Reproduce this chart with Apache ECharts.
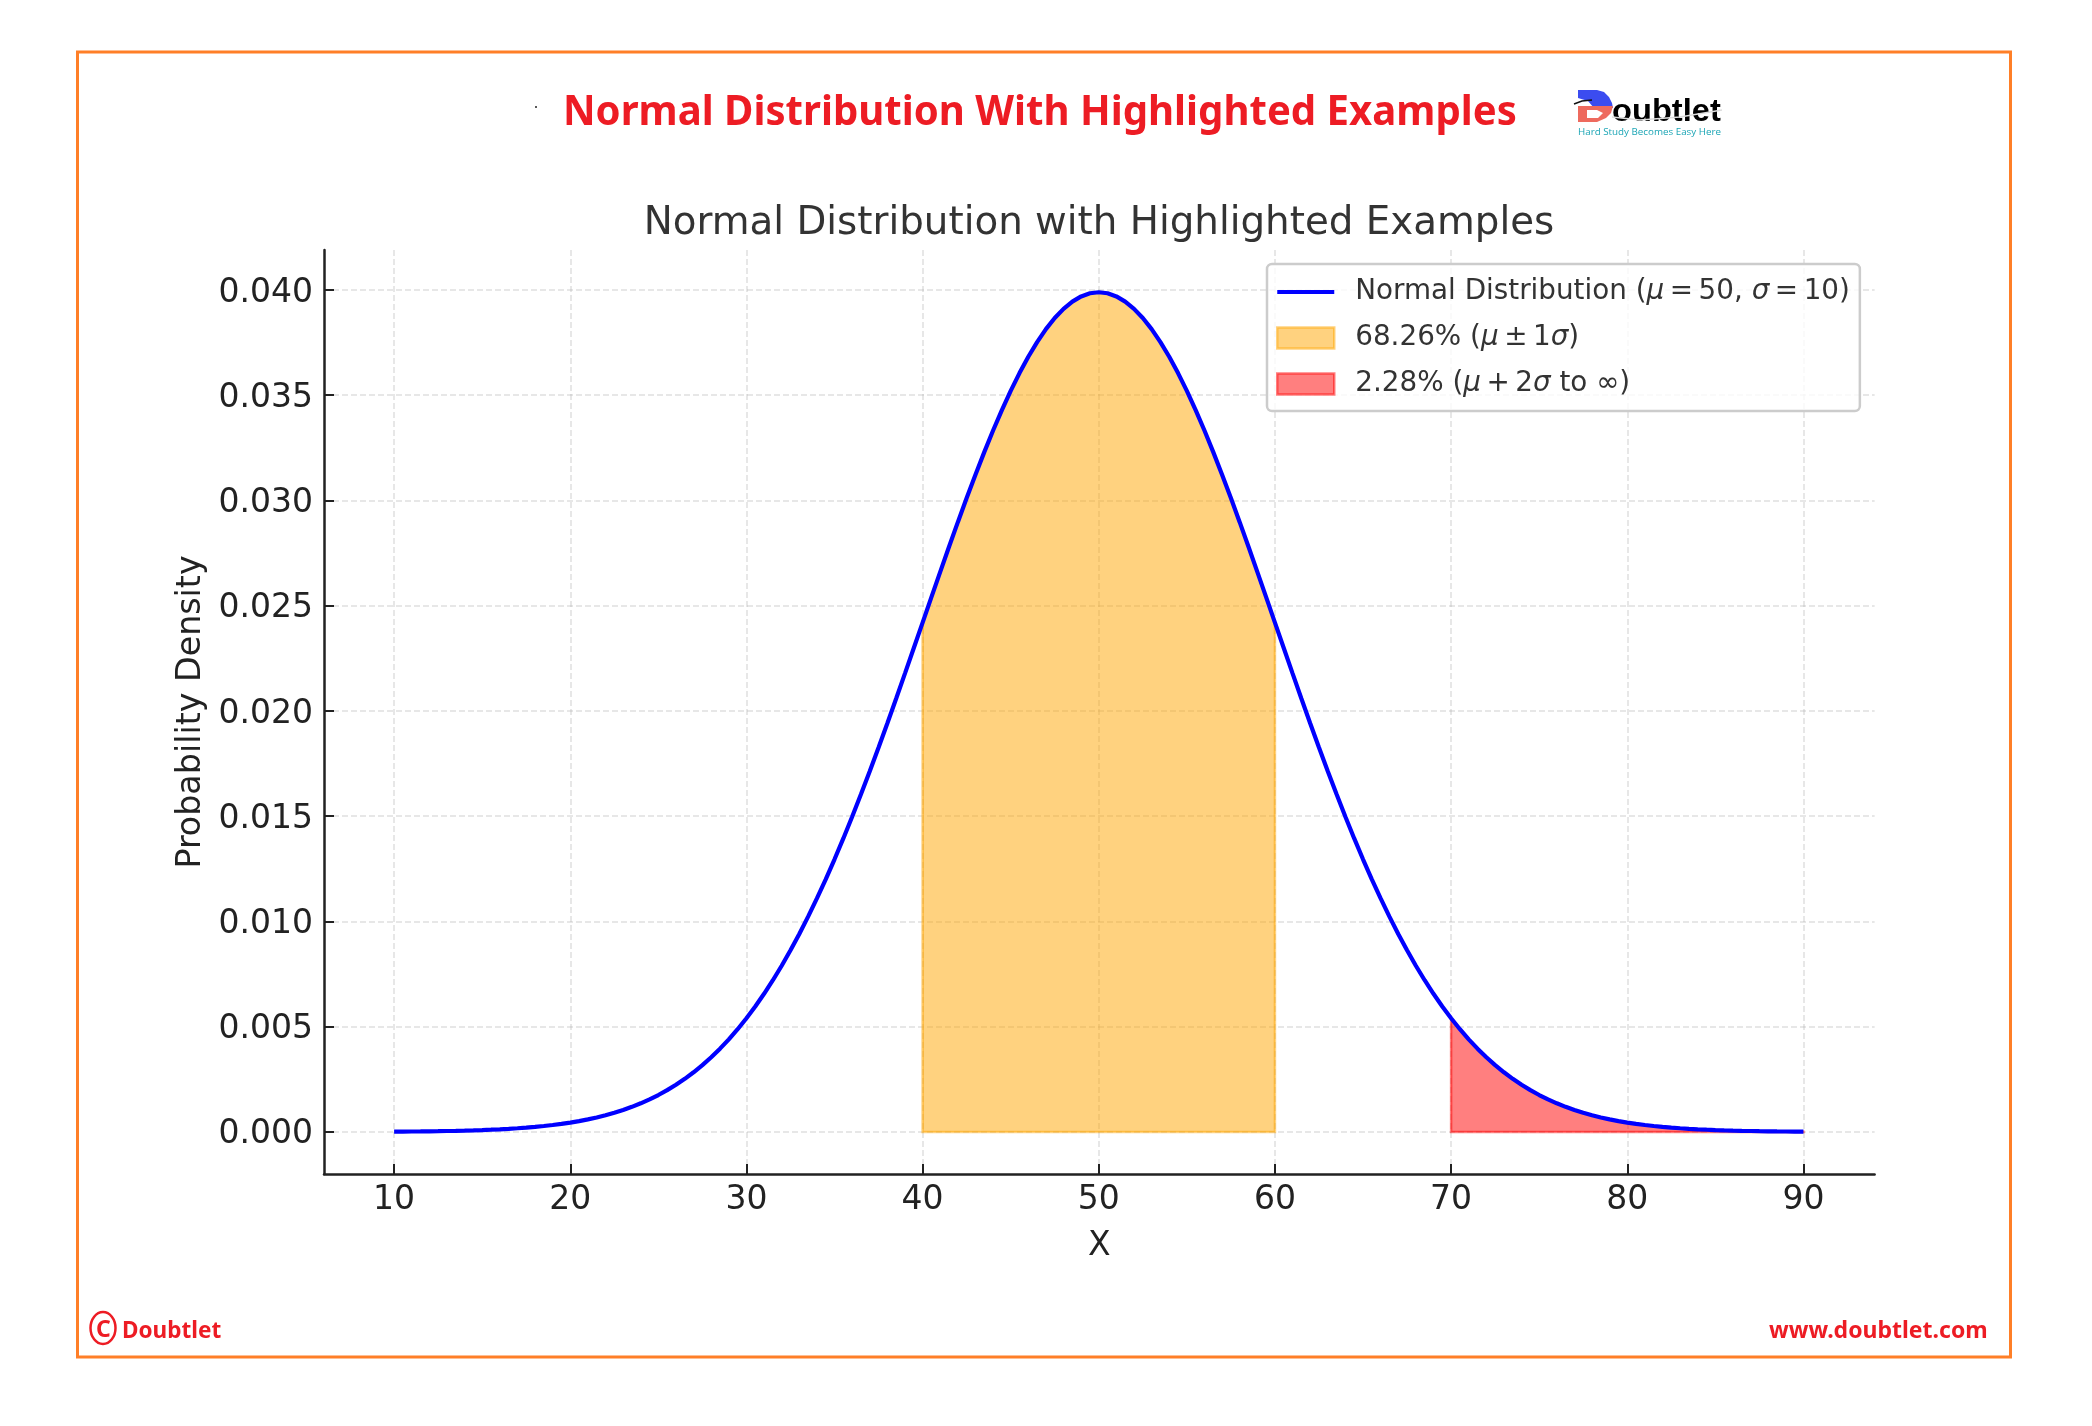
<!DOCTYPE html>
<html>
<head>
<meta charset="utf-8">
<script src="https://cdn.jsdelivr.net/npm/echarts@6/dist/echarts.min.js"></script>
<style>html,body{margin:0;padding:0;background:#fff}#c{width:2092px;height:1426px}</style>
</head>
<body>
<div id="c"></div>
<script>
const xValues = [10,10.5,11,11.5,12,12.5,13,13.5,14,14.5,15,15.5,16,16.5,17,17.5,18,18.5,19,19.5,20,20.5,21,21.5,22,22.5,23,23.5,24,24.5,25,25.5,26,26.5,27,27.5,28,28.5,29,29.5,30,30.5,31,31.5,32,32.5,33,33.5,34,34.5,35,35.5,36,36.5,37,37.5,38,38.5,39,39.5,40,40.5,41,41.5,42,42.5,43,43.5,44,44.5,45,45.5,46,46.5,47,47.5,48,48.5,49,49.5,50,50.5,51,51.5,52,52.5,53,53.5,54,54.5,55,55.5,56,56.5,57,57.5,58,58.5,59,59.5,60,60.5,61,61.5,62,62.5,63,63.5,64,64.5,65,65.5,66,66.5,67,67.5,68,68.5,69,69.5,70,70.5,71,71.5,72,72.5,73,73.5,74,74.5,75,75.5,76,76.5,77,77.5,78,78.5,79,79.5,80,80.5,81,81.5,82,82.5,83,83.5,84,84.5,85,85.5,86,86.5,87,87.5,88,88.5,89,89.5,90];
const densityValues = [
0.0000134,0.0000163,0.0000198,0.0000241,0.0000292,0.0000353,0.0000425,0.0000510,0.0000612,0.0000732,
0.0000873,0.0001038,0.0001232,0.0001459,0.0001723,0.0002029,0.0002384,0.0002794,0.0003267,0.0003810,
0.0004432,0.0005143,0.0005953,0.0006873,0.0007915,0.0009094,0.0010421,0.0011912,0.0013583,0.0015449,
0.0017528,0.0019837,0.0022395,0.0025218,0.0028327,0.0031740,0.0035475,0.0039550,0.0043984,0.0048792,
0.0053991,0.0059595,0.0065616,0.0072065,0.0078950,0.0086277,0.0094049,0.0102265,0.0110921,0.0120009,
0.0129518,0.0139431,0.0149727,0.0160383,0.0171369,0.0182649,0.0194186,0.0205936,0.0217852,0.0229882,
0.0241971,0.0254059,0.0266085,0.0277985,0.0289692,0.0301137,0.0312254,0.0322972,0.0333225,0.0342944,
0.0352065,0.0360527,0.0368270,0.0375240,0.0381388,0.0386668,0.0391043,0.0394479,0.0396953,0.0398444,
0.0398942,
0.0398444,0.0396953,0.0394479,0.0391043,0.0386668,0.0381388,0.0375240,0.0368270,0.0360527,0.0352065,
0.0342944,0.0333225,0.0322972,0.0312254,0.0301137,0.0289692,0.0277985,0.0266085,0.0254059,0.0241971,
0.0229882,0.0217852,0.0205936,0.0194186,0.0182649,0.0171369,0.0160383,0.0149727,0.0139431,0.0129518,
0.0120009,0.0110921,0.0102265,0.0094049,0.0086277,0.0078950,0.0072065,0.0065616,0.0059595,0.0053991,
0.0048792,0.0043984,0.0039550,0.0035475,0.0031740,0.0028327,0.0025218,0.0022395,0.0019837,0.0017528,
0.0015449,0.0013583,0.0011912,0.0010421,0.0009094,0.0007915,0.0006873,0.0005953,0.0005143,0.0004432,
0.0003810,0.0003267,0.0002794,0.0002384,0.0002029,0.0001723,0.0001459,0.0001232,0.0001038,0.0000873,
0.0000732,0.0000612,0.0000510,0.0000425,0.0000353,0.0000292,0.0000241,0.0000198,0.0000163,0.0000134];
const xTicks = [10,20,30,40,50,60,70,80,90];
const yTicks = [0,0.005,0.01,0.015,0.02,0.025,0.03,0.035,0.04];
const seriesNames = ['Normal Distribution', '68.26%', '2.28%'];
const legendRich = {
  'Normal Distribution': '{t|Normal Distribution (}{m|μ}{t|\u2009=\u200950, }{m|σ}{t|\u2009=\u200910)}',
  '68.26%': '{t|68.26% (}{m|μ}{t|\u2009±\u20091}{m|σ}{t|)}',
  '2.28%': '{t|2.28% (}{m|μ}{t|\u2009+\u20092}{m|σ}{t| to ∞)}'
};
const headerText = 'Normal Distribution With Highlighted Examples';
const chartTitle = 'Normal Distribution with Highlighted Examples';

const points = xValues.map((x, i) => [x, densityValues[i]]);
const RED = '#ED1C24';
const DV = '"DejaVu Sans"';

function bandSeries(name, lo, hi, fill, stroke) {
  const pts = points.filter(p => p[0] >= lo && p[0] <= hi);
  return {
    name: name, type: 'custom', data: pts, z: 2, silent: true, clip: false,
    itemStyle: { color: fill },
    renderItem: function (params, api) {
      if (params.dataIndex !== 0) return null;
      const top = pts.map(p => api.coord(p));
      const first = api.coord([lo, 0]);
      const last = api.coord([hi, 0]);
      return {
        type: 'polygon',
        shape: { points: [first].concat(top, [last]) },
        style: { fill: fill, stroke: stroke, lineWidth: 2.5 }
      };
    }
  };
}

const option = {
  animation: false,
  backgroundColor: '#fff',
  title: {
    text: chartTitle, left: 1094, top: 199, textAlign: 'center',
    textStyle: { fontFamily: DV, fontSize: 38.8, fontWeight: 'normal', color: '#333' }
  },
  grid: { left: 324, top: 250, width: 1550.6, height: 924, containLabel: false },
  legend: {
    left: 1267, top: 264, orient: 'vertical', padding: [14, 10, 13, 9], itemGap: 18,
    itemWidth: 57, itemHeight: 21,
    backgroundColor: 'rgba(255,255,255,0.8)', borderColor: '#ccc', borderWidth: 2.5, borderRadius: 5,
    data: [
      { name: seriesNames[0], icon: 'path://M0 0H57V4H0Z', itemStyle: { color: '#0000ff', borderWidth: 0 } },
      { name: seriesNames[1], icon: 'rect', itemStyle: { color: 'rgba(255,165,0,0.5)', borderColor: 'rgba(255,165,0,0.5)', borderWidth: 2.5 } },
      { name: seriesNames[2], icon: 'rect', itemStyle: { color: 'rgba(255,0,0,0.5)', borderColor: 'rgba(255,0,0,0.5)', borderWidth: 2.5 } }
    ],
    formatter: n => legendRich[n],
    textStyle: {
      padding: [0, 0, 0, 16],
      rich: {
        t: { fontFamily: DV, fontSize: 27.8, color: '#333' },
        m: { fontFamily: DV, fontSize: 27.8, fontStyle: 'italic', color: '#333' }
      }
    }
  },
  xAxis: {
    type: 'value', min: 6.02, max: 94.04, name: 'X', nameLocation: 'middle', nameGap: 56,
    nameTextStyle: { fontFamily: DV, fontSize: 33, color: '#222' },
    axisLine: { onZero: false, lineStyle: { color: '#222', width: 2.5 } },
    axisTick: { inside: true, length: 10, customValues: xTicks, lineStyle: { color: '#222', width: 2 } },
    axisLabel: { customValues: xTicks, margin: 10, fontFamily: DV, fontSize: 33, color: '#222' },
    splitLine: { show: true, lineStyle: { type: [6, 3], color: 'rgba(176,176,176,0.3)', width: 2 } }
  },
  yAxis: {
    type: 'value', min: -0.002, max: 0.0419, name: 'Probability Density', nameLocation: 'middle', nameGap: 116,
    nameTextStyle: { fontFamily: DV, fontSize: 33.3, color: '#222' },
    axisLine: { onZero: false, lineStyle: { color: '#222', width: 2.5 } },
    axisTick: { inside: true, length: 10, customValues: yTicks, lineStyle: { color: '#222', width: 2 } },
    axisLabel: { customValues: yTicks, margin: 11, verticalAlign: 'top', lineHeight: 6, fontFamily: DV, fontSize: 33, color: '#222', formatter: v => v.toFixed(3) },
    splitLine: { show: true, lineStyle: { type: [6, 3], color: 'rgba(176,176,176,0.3)', width: 2 } }
  },
  series: [
    bandSeries(seriesNames[1], 40, 60, 'rgba(255,165,0,0.5)', 'rgba(255,165,0,0.5)'),
    bandSeries(seriesNames[2], 70, 90, 'rgba(255,0,0,0.5)', 'rgba(255,0,0,0.5)'),
    {
      name: seriesNames[0], type: 'line', data: points, smooth: false, showSymbol: false, symbol: 'none', z: 5,
      lineStyle: { color: '#0000ff', width: 4.2 }, itemStyle: { color: '#0000ff' }, silent: true
    }
  ],
  graphic: [
    { type: 'rect', shape: { x: 77.5, y: 52, width: 1933, height: 1305 }, style: { fill: 'none', stroke: '#FF7F27', lineWidth: 3 }, silent: true },
    { type: 'circle', shape: { cx: 536, cy: 107, r: 1 }, style: { fill: '#222' }, silent: true },
    { type: 'text', x: 563, y: 92, scaleX: 0.955, style: { text: headerText, fontFamily: '"Noto Sans"', fontWeight: 'bold', fontSize: 42, fill: RED } },
    // logo
    { type: 'polygon', shape: { points: [[1578,90],[1597,90],[1604,92],[1609,97],[1612,103],[1613,108],[1594,108],[1588,101],[1578,98]] }, style: { fill: '#3B4CF0' }, silent: true },
    { type: 'polygon', shape: { points: [[1578,106],[1613,106],[1611,113],[1606,118],[1597,122],[1578,122]] }, style: { fill: '#EE6A5E' }, silent: true },
    { type: 'polygon', shape: { points: [[1587,110],[1597,110],[1603,113],[1598,118],[1587,118]] }, style: { fill: '#fff' }, silent: true },
    { type: 'polyline', shape: { points: [[1574,104],[1582,101],[1592,100]] }, style: { stroke: '#111', lineWidth: 1.5, fill: 'none' }, silent: true },
    { type: 'text', x: 1612, y: 96, scaleX: 1.02, style: { text: 'oubtlet', fontFamily: '"Liberation Sans"', fontWeight: 'bold', fontSize: 32, fill: '#000' } },
    { type: 'polyline', shape: { points: [[1612,117],[1640,120],[1680,117],[1722,110]] }, style: { stroke: '#ddd', lineWidth: 1.5, fill: 'none' }, silent: true },
    { type: 'text', x: 1578, y: 127, style: { text: 'Hard Study Becomes Easy Here', fontFamily: '"Open Sans"', fontSize: 9.8, fill: '#1BA5B5' } },
    // footer
    { type: 'ellipse', shape: { cx: 103, cy: 1328, rx: 12.5, ry: 16 }, style: { fill: 'none', stroke: RED, lineWidth: 2.5 }, silent: true },
    { type: 'text', x: 96, y: 1319, style: { text: 'C', fontFamily: '"Noto Sans"', fontWeight: 'bold', fontSize: 23, fill: RED } },
    { type: 'text', x: 122, y: 1320, scaleX: 0.98, style: { text: 'Doubtlet', fontFamily: '"Noto Sans"', fontWeight: 'bold', fontSize: 23, fill: RED } },
    { type: 'text', x: 1769, y: 1320, style: { text: 'www.doubtlet.com', fontFamily: '"Noto Sans"', fontWeight: 'bold', fontSize: 23, fill: RED } }
  ]
};
echarts.init(document.getElementById('c')).setOption(option);
</script>
</body>
</html>
